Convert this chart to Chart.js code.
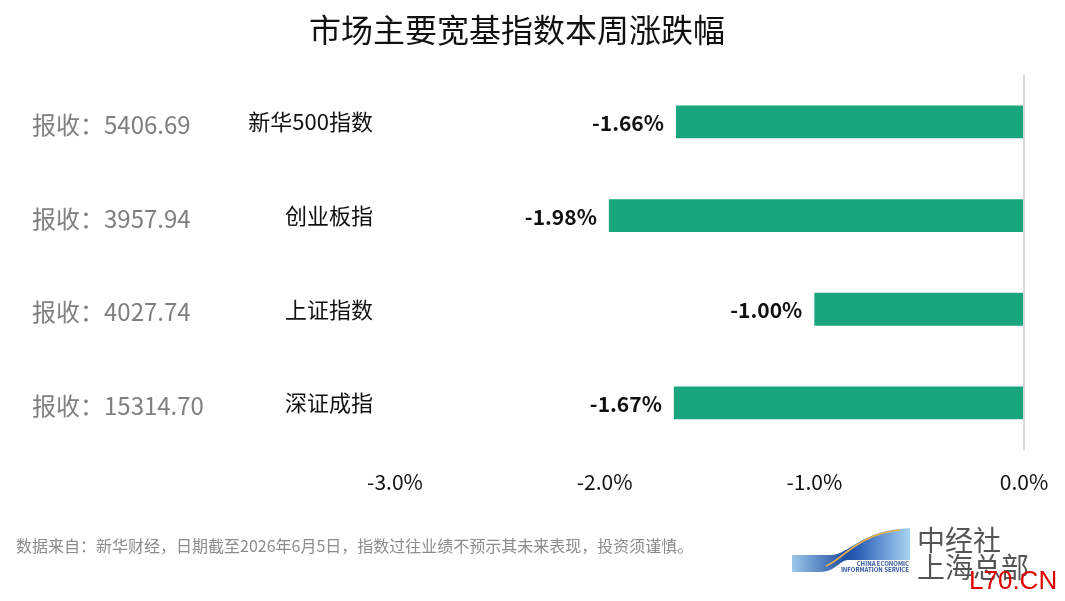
<!DOCTYPE html>
<html>
<head>
<meta charset="utf-8">
<script src="https://cdn.jsdelivr.net/npm/chart.js@4"></script>
<style>
  html, body { margin: 0; padding: 0; background: #fff; }
  #wrap { width: 1065px; height: 601px; position: relative; }
</style>
</head>
<body>
<div id="wrap"><canvas id="c" width="1065" height="601"></canvas></div>
<script>
const FONT = '"Noto Sans CJK SC", "Noto Sans", sans-serif';

// ---------- Data ----------
const categories = ["新华500指数", "创业板指", "上证指数", "深证成指"];
const changes = [-1.66, -1.98, -1.00, -1.67];
const closes = ["5406.69", "3957.94", "4027.74", "15314.70"];
const xTicks = [-3, -2, -1, 0];

const title = "市场主要宽基指数本周涨跌幅";
const source = "数据来自：新华财经，日期截至2026年6月5日，指数过往业绩不预示其未来表现，投资须谨慎。";

// ---------- Labels around the bars ----------
const labelPlugin = {
  id: "labels",
  afterDraw(chart) {
    const ctx = chart.ctx;
    const x = chart.scales.x;
    const y = chart.scales.y;
    ctx.save();

    // title
    ctx.fillStyle = "#111";
    ctx.font = "32px " + FONT;
    ctx.textAlign = "center";
    ctx.textBaseline = "middle";
    ctx.fillText(title, 517, 30);

    categories.forEach((name, i) => {
      const yc = y.getPixelForValue(i);
      // close price (gray)
      ctx.fillStyle = "#7f7f7f";
      ctx.font = "24px " + FONT;
      ctx.textAlign = "left";
      ctx.fillText("报收：" + closes[i], 32, yc + 3);
      // index name
      ctx.fillStyle = "#111";
      ctx.font = "22px " + FONT;
      ctx.textAlign = "right";
      ctx.fillText(name, 373, yc);
      // value
      ctx.font = "bold 21px " + FONT;
      ctx.fillText(changes[i].toFixed(2) + "%", x.getPixelForValue(changes[i]) - 12, yc + 1);
    });

    // footer source
    ctx.fillStyle = "#8c8c8c";
    ctx.font = "16px " + FONT;
    ctx.textAlign = "left";
    ctx.fillText(source, 16, 546);

    // logo swoosh
    const g = ctx.createLinearGradient(792, 0, 910, 0);
    g.addColorStop(0, "#9cc7ea");
    g.addColorStop(0.45, "#1f4fa3");
    g.addColorStop(0.55, "#2a5db5");
    g.addColorStop(1, "#a9d3f2");
    ctx.fillStyle = g;
    ctx.beginPath();
    ctx.moveTo(792, 555);
    ctx.lineTo(830, 555);
    ctx.bezierCurveTo(850, 555, 860, 530, 910, 528);
    ctx.lineTo(910, 560);
    ctx.lineTo(848, 560);
    ctx.bezierCurveTo(840, 560, 835, 572, 820, 572);
    ctx.lineTo(792, 572);
    ctx.closePath();
    ctx.fill();
    ctx.strokeStyle = "#f2b34a";
    ctx.lineWidth = 1.5;
    ctx.beginPath();
    ctx.moveTo(826, 566);
    ctx.bezierCurveTo(842, 560, 858, 534, 900, 530);
    ctx.stroke();
    ctx.fillStyle = "#2b4f9a";
    ctx.font = "bold 6px " + FONT;
    ctx.textAlign = "right";
    ctx.fillText("CHINA ECONOMIC", 909, 564);
    ctx.fillText("INFORMATION SERVICE", 909, 570);

    ctx.fillStyle = "#555";
    ctx.font = "28px " + FONT;
    ctx.textAlign = "left";
    ctx.fillText("中经社", 917, 540);
    ctx.fillText("上海总部", 917, 567);

    ctx.fillStyle = "#e00000";
    ctx.font = "26px \"Liberation Sans\", Arial, sans-serif";
    ctx.fillText("L70.CN", 969, 582);

    ctx.restore();
  }
};

new Chart(document.getElementById("c"), {
  type: "bar",
  data: {
    labels: categories,
    datasets: [{
      data: changes,
      backgroundColor: "#19a57e",
      borderWidth: 0,
      barPercentage: 0.7,
      categoryPercentage: 0.5
    }]
  },
  options: {
    indexAxis: "y",
    responsive: false,
    animation: false,
    events: [],
    layout: { padding: { left: 395, right: 41, top: 75, bottom: 86 } },
    plugins: { legend: { display: false }, tooltip: { enabled: false } },
    scales: {
      x: {
        min: -3,
        max: 0,
        afterBuildTicks: axis => { axis.ticks = xTicks.map(v => ({ value: v })); },
        afterFit: s => { s.paddingLeft = 0; s.paddingRight = 0; },
        grid: {
          drawTicks: false,
          color: c => c.tick && c.tick.value === 0 ? "#d9d9d9" : "rgba(0,0,0,0)",
          lineWidth: 2
        },
        border: { display: false },
        ticks: {
          color: "#111",
          padding: 20,
          font: { size: 21, family: FONT },
          callback: v => v.toFixed(1) + "%"
        }
      },
      y: { display: false }
    }
  },
  plugins: [labelPlugin]
});
</script>
</body>
</html>
